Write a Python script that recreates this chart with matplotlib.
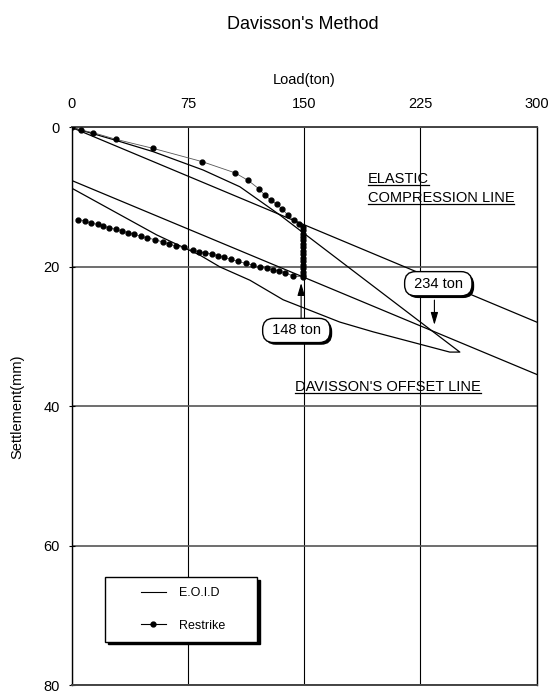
import matplotlib
matplotlib.use("Agg")
import matplotlib.pyplot as plt
from matplotlib import patheffects
from matplotlib.lines import Line2D
from matplotlib.legend_handler import HandlerLine2D

plt.rcParams['font.family'] = ['Liberation Sans', 'DejaVu Sans']
plt.rcParams['font.size'] = 10.5

# E.O.I.D load test: loading branch then unloading branch
eoid_load = [0, 28.6, 52.6, 84.8, 108.5, 134.3, 250.4,
             243.9, 194.5, 173.0, 136.4, 115.0, 95.7, 82.7, 54.8, 0]
eoid_settle = [0, 1.85, 3.47, 6.1, 8.5, 12.55, 32.2,
               32.2, 29.3, 27.9, 24.7, 21.9, 20.0, 18.3, 15.4, 8.7]

# Restrike load test: loading, creep at constant load, unloading
restrike_load = [0, 5.8, 13.9, 28.6, 52.6, 84.2, 105.3, 113.9, 120.8, 124.6,
                 128.5, 132.2, 135.8, 139.7, 143.3, 146.7, 148.9,
                 148.9, 148.9, 148.9, 148.9, 148.9, 148.9, 148.9, 148.9,
                 148.9, 148.9, 148.9, 148.9, 148.9, 148.9, 148.9,
                 142.9, 137.5, 133.8, 130.0, 125.7, 121.4, 116.7, 112.4, 107.4,
                 102.5, 98.2, 94.5, 90.3, 85.9, 82.0, 78.4, 72.4, 67.2, 62.9,
                 58.7, 53.7, 48.7, 44.7, 40.2, 36.5, 32.4, 28.6, 24.2, 20.4,
                 16.8, 12.4, 8.6, 4.3]
restrike_settle = [0, 0.36, 0.75, 1.7, 3.0, 4.9, 6.5, 7.6, 8.8, 9.7,
                   10.4, 11.0, 11.7, 12.6, 13.3, 13.8, 14.2,
                   14.7, 15.2, 15.7, 16.2, 16.7, 17.2, 17.7, 18.2,
                   18.7, 19.2, 19.7, 20.2, 20.7, 21.1, 21.4,
                   21.3, 20.8, 20.6, 20.4, 20.2, 20.0, 19.7, 19.5, 19.2,
                   18.9, 18.6, 18.4, 18.1, 18.0, 17.8, 17.6, 17.2, 17.0, 16.7,
                   16.4, 16.1, 15.8, 15.6, 15.3, 15.1, 14.8, 14.6, 14.4, 14.1,
                   13.9, 13.7, 13.4, 13.2]

elastic_load = [0, 300]
elastic_settle = [0, 27.9]
offset_load = [0, 300]
offset_settle = [7.6, 35.4]

capacity_text = ['148 ton', '234 ton']
capacity_load = [148, 234]
capacity_settle = [22.3, 28.3]

x_ticks = [0, 75, 150, 225, 300]
y_ticks = [0, 20, 40, 60, 80]

fig = plt.figure(figsize=(5.56, 6.97), dpi=100)
ax = fig.add_axes([0.129, 0.0165, 0.8363, 0.8006])

ax.plot(eoid_load, eoid_settle, color='black', lw=0.9, label='E.O.I.D', zorder=3)
ax.plot(restrike_load, restrike_settle, color='#555555', lw=0.6, marker='o',
        markersize=3.5, markerfacecolor='black', markeredgecolor='black',
        label='Restrike', zorder=4)
ax.plot(elastic_load, elastic_settle, color='black', lw=0.9, zorder=3)
ax.plot(offset_load, offset_settle, color='black', lw=0.9, zorder=3)

ax.set_xlim(0, 300)
ax.set_ylim(80, 0)
ax.set_xticks(x_ticks)
ax.set_yticks(y_ticks)
ax.xaxis.tick_top()
ax.xaxis.set_label_position('top')
ax.set_xlabel('Load(ton)', labelpad=9)
ax.set_ylabel('Settlement(mm)', labelpad=14)
ax.tick_params(axis='x', length=0, pad=12)
ax.tick_params(axis='y', direction='inout', length=5, pad=6)

ax.xaxis.grid(True, color='black', lw=0.8)
ax.yaxis.grid(True, color='#555555', lw=1.2)
ax.set_axisbelow(True)
for side in ['left', 'right']:
    ax.spines[side].set_color('black')
    ax.spines[side].set_linewidth(1.0)
for side in ['top', 'bottom']:
    ax.spines[side].set_color('#444444')
    ax.spines[side].set_linewidth(1.4)

# capacity call-outs with shadowed rounded boxes
shadow = [patheffects.SimplePatchShadow(offset=(1.6, -1.6), shadow_rgbFace='black', alpha=1.0),
          patheffects.Normal()]
box_pos = [(144.9, 29.1), (236.5, 22.4)]
arrow_start = [27.3, 24.75]
for txt, bx, x, y, ys in zip(capacity_text, box_pos, capacity_load, capacity_settle, arrow_start):
    t = ax.text(bx[0], bx[1], ' ' + txt + ' ', ha='center', va='center', fontsize=10.5, zorder=6,
                bbox=dict(boxstyle='round,pad=0.35,rounding_size=0.75', fc='white', ec='black', lw=1.0))
    t.get_bbox_patch().set_path_effects(shadow)
    ax.annotate('', xy=(x, y), xytext=(x, ys), zorder=6,
                arrowprops=dict(arrowstyle='-|>,head_length=0.75,head_width=0.22', color='black',
                                lw=0.8, shrinkA=0, shrinkB=0, mutation_scale=10))

# line names (underlined)
notes = [(191, 7.96, 'ELASTIC'), (191, 10.7, 'COMPRESSION LINE'), (144, 37.8, "DAVISSON'S OFFSET LINE")]
note_texts = []
for x, y, s in notes:
    note_texts.append(ax.text(x, y, s, ha='left', va='baseline', fontsize=10.5, zorder=6))

leg = ax.legend(loc='upper left', bbox_to_anchor=(0.0716, 0.0944, 0.327, 0.1), mode='expand',
                borderaxespad=0, fontsize=9, frameon=True, fancybox=False, numpoints=1,
                edgecolor='black', framealpha=1, borderpad=0.8, labelspacing=1.65,
                handlelength=4.1, handletextpad=1.0,
                shadow={'color': 'black', 'alpha': 1.0},
                handler_map={Line2D: HandlerLine2D(xpad=2.05)})
leg.get_frame().set_linewidth(1.0)
for h in leg.legend_handles:
    h.set_linewidth(0.8)
    h.set_color('black')

fig.text(0.545, 1 - 24.7 / 697, "Davisson's Method", ha='center', va='center', fontsize=13)

# underline the line names
fig.canvas.draw()
renderer = fig.canvas.get_renderer()
inv = fig.transFigure.inverted()
for t, (x, y, s) in zip(note_texts, notes):
    bb = t.get_window_extent(renderer)
    base = ax.transData.transform((x, y))[1] - 2.2
    p0 = inv.transform((bb.x0, base))
    p1 = inv.transform((bb.x1, base))
    fig.add_artist(Line2D([p0[0], p1[0]], [p0[1], p1[1]], color='black', lw=0.9))

fig.savefig('out.png', dpi=100)
